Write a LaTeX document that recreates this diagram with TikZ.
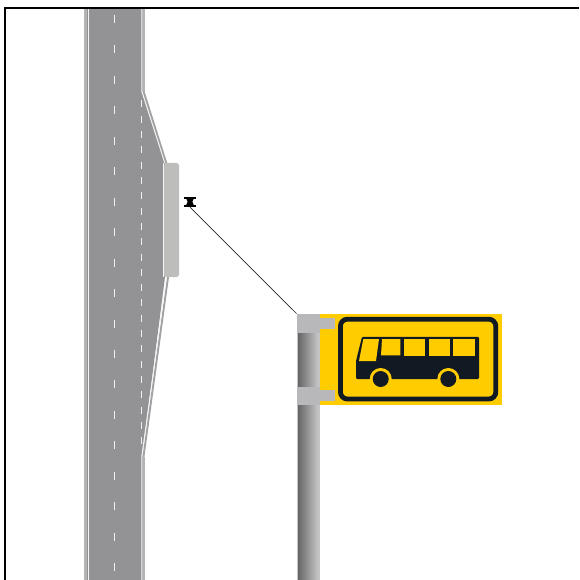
\documentclass[tikz,border=0pt]{standalone}
\usepackage{xcolor}
\usetikzlibrary{positioning,calc}
\definecolor{roadgrey}{HTML}{939396}
\definecolor{kerbgrey}{HTML}{B4B4B6}
\definecolor{bayblock}{HTML}{BDBDBB}
\definecolor{signyellow}{HTML}{FFCC00}
\definecolor{signblack}{HTML}{111A22}
\begin{document}
\begin{tikzpicture}[
    x=1pt, y=-1pt,
    kerbline/.style={draw=kerbgrey, line width=3pt, line join=round},
    baykerb/.style={draw=kerbgrey!45!roadgrey, line width=2pt, line join=round},
    edgeline/.style={draw=white!92!gray, line width=0.9pt, line join=round},
    lanedash/.style={draw=white!88!gray, line width=0.9pt},
    bracket/.style={fill=kerbgrey!95!white, draw=none},
    signwindow/.style={fill=signyellow, draw=none},
    wheelring/.style={circle, fill=signyellow, inner sep=0pt, minimum size=22pt},
    wheel/.style={circle, fill=signblack, inner sep=0pt, minimum size=16pt},
    stoplbl/.style={inner sep=0pt, minimum width=12pt, minimum height=10pt}
]
\useasboundingbox (0,0) rectangle (579,580);
\fill[white] (0,0) rectangle (579,580);
% road with the bay
\fill[roadgrey] (87,8) -- (142,8) -- (142,91) -- (165,163) -- (165,277) -- (142,457) -- (142,580) -- (87,580) -- cycle;
\draw[kerbline] (85.8,8) -- (85.8,580);
\draw[kerbline] (143.4,8) -- (143.4,91);
\draw[kerbline] (143.4,457) -- (143.4,580);
\draw[baykerb] (143.4,91) -- (166.2,163);
\draw[baykerb] (168,277) -- (143.4,457);
\draw[edgeline] (88,8) -- (88,580);
\draw[edgeline] (141.7,8) -- (141.7,91) -- (164.8,163);
\draw[edgeline] (166.5,277) -- (141.7,457) -- (141.7,580);
% lane markings
\foreach \k in {0,...,18}
    \draw[lanedash] (114,15+30.45*\k) -- ++(0,8);
\foreach \k in {0,...,22}
    \draw[lanedash] (141,100.5+15.3*\k) -- ++(0,7);
% platform
\fill[bayblock, rounded corners=2.5pt] (164,163) -- (179,163) -- (179,277) -- (164,277) -- cycle;
\draw[edgeline] (163.5,163) -- (163.5,277);
% stop symbol
\node[stoplbl] (stopmark) at (190,202) {};
\fill[black] (184,196.6) rectangle (196,198.8);
\fill[black] (184,204.8) rectangle (196,207);
\fill[black] (186,198) -- (194,198) -- (192.4,201.8) -- (194,205.5) -- (186,205.5) -- (187.6,201.8) -- cycle;
% pole
\node[draw=kerbgrey!80!white, line width=0.8pt, inner sep=0pt, minimum width=22.4pt, minimum height=266pt,
    left color=black!62, right color=black!20] (pole) at (308.2,447) {};
\coordinate (poletop) at (pole.north west);
\draw[line width=0.7pt, black!85] (stopmark.south) -- (poletop);
% sign
\node[fill=signyellow, inner sep=0pt, minimum width=182pt, minimum height=91pt] (plate) at (411,359.5) {};
\fill[bracket] (296.6,314) rectangle (320,333);
\fill[bracket] (296.6,386.5) rectangle (320,405);
\fill[bracket] (320,318) rectangle (335,329);
\fill[bracket] (320,390) rectangle (335,401);
\draw[signblack, line width=4.8pt, rounded corners=7pt] (340.4,319.2) rectangle (495.8,399);
% bus
\fill[signblack, rounded corners=1.2pt] (356,379) -- (356,361) -- (362,336.8) -- (479,336.8) -- (479,379) -- cycle;
\fill[signwindow] (359,361) -- (363.3,339) -- (379,339) -- (376,361) -- cycle;
\fill[signwindow] (381,355.3) -- (382,339) -- (400.3,339) -- (400.3,355.3) -- cycle;
\fill[signwindow] (404,339) rectangle (425,356);
\fill[signwindow] (429,339) rectangle (450,356);
\fill[signwindow] (453.3,339) rectangle (475.3,356);
\node[wheelring] (ringa) at (380.7,379) {};
\node[wheelring] (ringb) at (448.3,379) {};
\node[wheel] (wheela) at (ringa) {};
\node[wheel] (wheelb) at (ringb) {};
% frame
\draw[black, line width=1.6pt] (5,580) -- (5,8) -- (579,8);
\end{tikzpicture}
\end{document}
